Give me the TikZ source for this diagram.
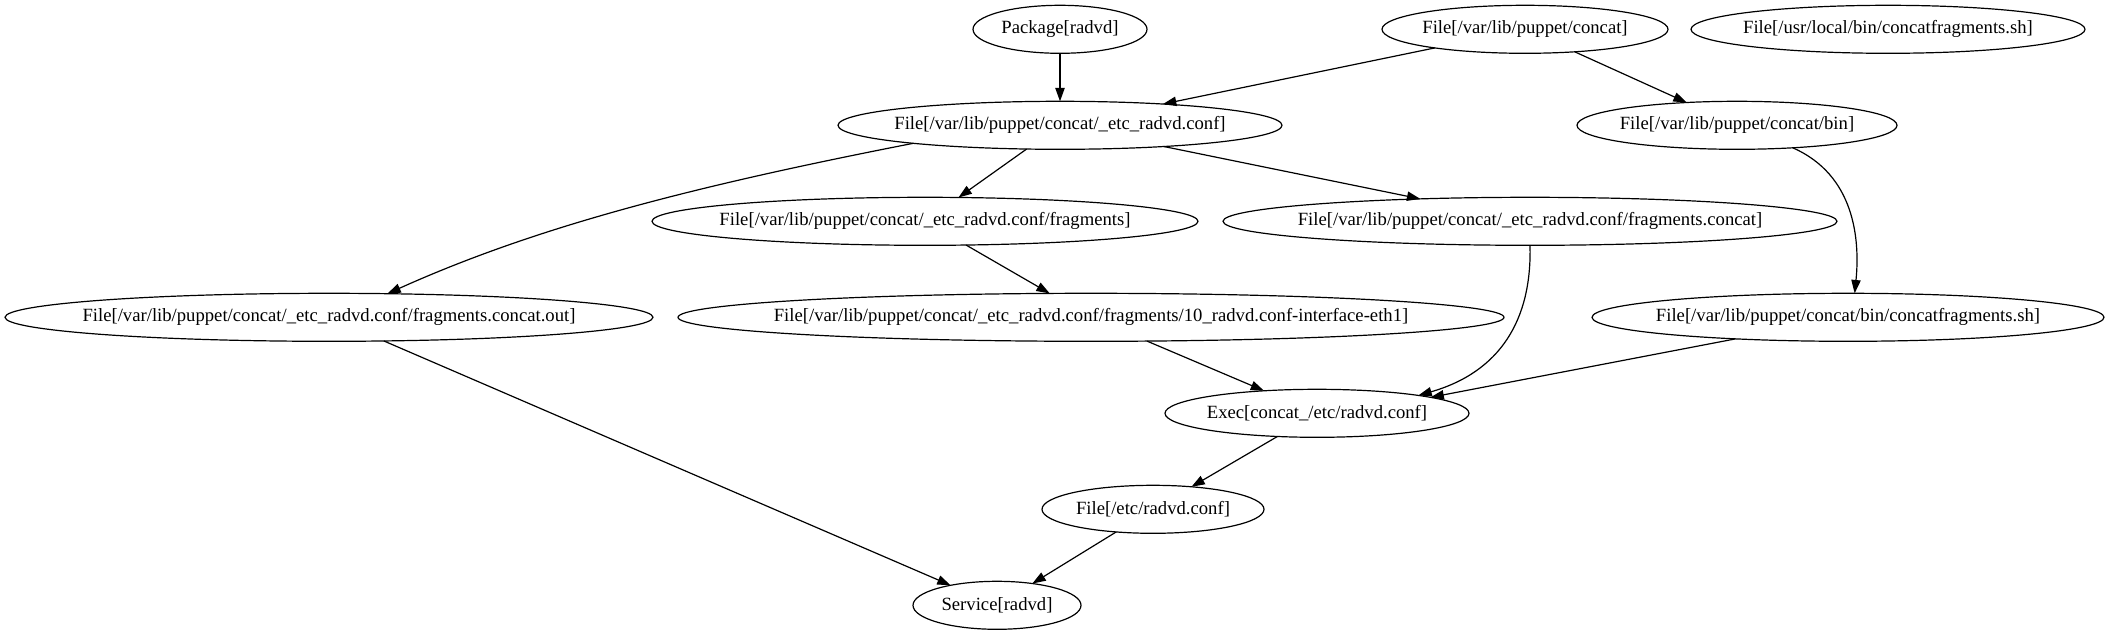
\documentclass[tikz,border=0pt]{standalone}
\usepackage{fontspec}
\setmainfont{Liberation Serif}
\usetikzlibrary{shapes.geometric,arrows.meta}
\tikzset{
  gnode/.style={draw, ellipse, inner sep=0pt, outer sep=0pt, minimum height=36pt, line width=0.9pt, font=\fontsize{14pt}{16pt}\selectfont},
  gedge/.style={draw, line width=0.9pt, -{Triangle[length=10pt,width=7pt]}},
}
\newcommand{\lbl}[1]{\makebox[0pt]{#1}}
\begin{document}
\begin{tikzpicture}[x=0.75pt,y=-0.75pt]
\fill[white] (0,0) rectangle (2109,635);
\useasboundingbox (0,0) rectangle (2109,635);
% row 1
\node[gnode, minimum width=130.5pt] (pkg) at (1060,29.3) {\lbl{Package[radvd]}};
\node[gnode, minimum width=214.5pt] (fconcat) at (1525,29.3) {\lbl{File[/var/lib/puppet/concat]}};
\node[gnode, minimum width=295.5pt] (usrlocal) at (1888,29.3) {\lbl{File[/usr/local/bin/concatfragments.sh]}};
% row 2
\node[gnode, minimum width=333pt] (radvdconf) at (1060,125.3) {\lbl{File[/var/lib/puppet/concat/\_etc\_radvd.conf]}};
\node[gnode, minimum width=240pt] (bin) at (1737,125.3) {\lbl{File[/var/lib/puppet/concat/bin]}};
% row 3
\node[gnode, minimum width=409.5pt] (frag) at (925,221.3) {\lbl{File[/var/lib/puppet/concat/\_etc\_radvd.conf/fragments]}};
\node[gnode, minimum width=460.5pt] (fragconcat) at (1530,221.3) {\lbl{File[/var/lib/puppet/concat/\_etc\_radvd.conf/fragments.concat]}};
% row 4
\node[gnode, minimum width=486pt] (out) at (329,317.3) {\lbl{File[/var/lib/puppet/concat/\_etc\_radvd.conf/fragments.concat.out]}};
\node[gnode, minimum width=619.5pt] (frag10) at (1091,317.3) {\lbl{File[/var/lib/puppet/concat/\_etc\_radvd.conf/fragments/10\_radvd.conf-interface-eth1]}};
\node[gnode, minimum width=384pt] (binsh) at (1848,317.3) {\lbl{File[/var/lib/puppet/concat/bin/concatfragments.sh]}};
% rows 5-7
\node[gnode, minimum width=228pt] (exec) at (1317,413.3) {\lbl{Exec[concat\_/etc/radvd.conf]}};
\node[gnode, minimum width=166.5pt] (etc) at (1153,509.3) {\lbl{File[/etc/radvd.conf]}};
\node[gnode, minimum width=126pt] (service) at (997,605.3) {\lbl{Service[radvd]}};
% edges
\draw[gedge] (pkg) -- (radvdconf);
\draw[gedge] (fconcat) -- (radvdconf);
\draw[gedge] (fconcat) -- (bin);
\draw[gedge] (radvdconf.187) .. controls (700,185) and (540,225) .. (out.22);
\draw[gedge] (radvdconf) -- (frag);
\draw[gedge] (radvdconf) -- (fragconcat);
\draw[gedge] (frag) -- (frag10);
\draw[gedge] (out) -- (service);
\draw[gedge] (frag10) -- (exec);
\draw[gedge] (fragconcat.south) .. controls (1532,320) and (1500,372) .. (exec.10);
\draw[gedge] (bin.-22) .. controls (1855,175) and (1860,240) .. ([xshift=5pt]binsh.north);
\draw[gedge] (binsh) -- (exec.8);
\draw[gedge] (exec) -- (etc);
\draw[gedge] (etc) -- (service);
\end{tikzpicture}
\end{document}
